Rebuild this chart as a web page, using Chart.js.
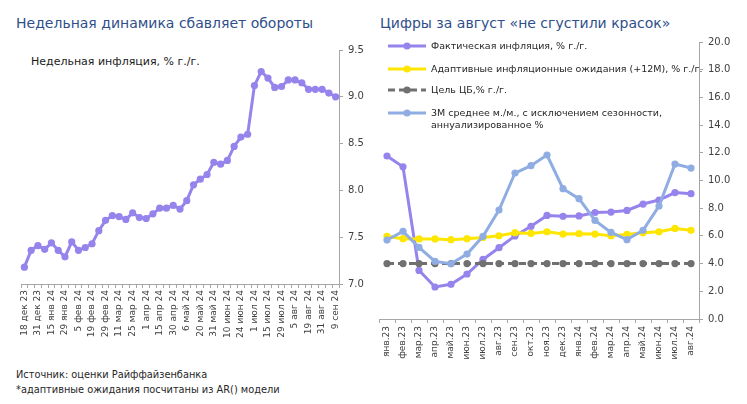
<!DOCTYPE html>
<html><head><meta charset="utf-8">
<script src="https://cdn.jsdelivr.net/npm/chart.js@4/dist/chart.umd.min.js"></script>
<style>
html,body{margin:0;padding:0;background:#fff;}
#wrap{position:relative;width:747px;height:404px;overflow:hidden;font-family:"DejaVu Sans",sans-serif;}
.t{position:absolute;white-space:nowrap;}
.title{color:#2f4f8a;font-size:14px;}
canvas{position:absolute;}
.lg{position:absolute;left:388px;font-size:9.5px;color:#262626;}
.lg svg{position:absolute;left:0;}
.lg span{position:absolute;left:43px;white-space:nowrap;line-height:12px;}
</style></head>
<body><div id="wrap">
<div class="t title" style="left:16px;top:15px;">Недельная динамика сбавляет обороты</div>
<div class="t" style="left:31px;top:55px;font-size:11px;color:#1a1a1a;">Недельная инфляция, % г./г.</div>
<div class="t title" style="left:380px;top:15px;">Цифры за август «не сгустили красок»</div>
<div class="t" style="left:16px;top:369px;font-size:9.8px;color:#262626;">Источник: оценки Райффайзенбанка</div>
<div class="t" style="left:16px;top:384px;font-size:9.8px;color:#262626;">*адаптивные ожидания посчитаны из AR() модели</div>
<canvas id="c1" width="375" height="354" style="left:0;top:0;"></canvas>
<canvas id="c2" width="377" height="374" style="left:370px;top:0;"></canvas>
<div id="legend"></div>
</div>
<script>
// ---- Left chart data ----
const weekLabels = ["18 дек 23","25 дек 23","31 дек 23","9 янв 24","15 янв 24","22 янв 24","29 янв 24","31 янв 24","5 фев 24","12 фев 24","19 фев 24","26 фев 24","29 фев 24","4 мар 24","11 мар 24","18 мар 24","25 мар 24","31 мар 24","1 апр 24","8 апр 24","15 апр 24","22 апр 24","30 апр 24","2 май 24","6 май 24","13 май 24","20 май 24","27 май 24","31 май 24","3 июн 24","10 июн 24","17 июн 24","24 июн 24","30 июн 24","1 июл 24","8 июл 24","15 июл 24","22 июл 24","29 июл 24","31 июл 24","5 авг 24","12 авг 24","19 авг 24","26 авг 24","31 авг 24","2 сен 24","9 сен 24"];
const weeklyInflation = [7.18,7.36,7.41,7.37,7.44,7.36,7.29,7.45,7.36,7.39,7.43,7.57,7.68,7.73,7.72,7.69,7.76,7.71,7.70,7.75,7.81,7.81,7.84,7.80,7.89,8.06,8.12,8.17,8.30,8.28,8.32,8.47,8.57,8.60,9.12,9.27,9.20,9.10,9.11,9.18,9.18,9.15,9.08,9.08,9.08,9.04,9.00];
const leftTicks = {min:7.0, max:9.5, step:0.5};

// ---- Right chart data ----
const months = ["янв.23","фев.23","мар.23","апр.23","май.23","июн.23","июл.23","авг.23","сен.23","окт.23","ноя.23","дек.23","янв.24","фев.24","мар.24","апр.24","май.24","июн.24","июл.24","авг.24"];
const actualInflation = [11.77,10.99,3.51,2.31,2.51,3.25,4.30,5.15,6.00,6.69,7.48,7.42,7.44,7.69,7.72,7.84,8.30,8.59,9.13,9.05];
const adaptiveExpectations = [5.97,5.80,5.78,5.78,5.73,5.80,5.89,6.01,6.23,6.18,6.30,6.13,6.16,6.13,6.01,6.11,6.23,6.30,6.54,6.40];
const cbTarget = [4,4,4,4,4,4,4,4,4,4,4,4,4,4,4,4,4,4,4,4];
const saar3m = [5.70,6.33,5.17,4.16,3.99,4.69,5.97,7.87,10.54,11.07,11.84,9.41,8.69,7.12,6.25,5.73,6.40,8.16,11.19,10.90];
const seriesNames = ["Фактическая инфляция, % г./г.","Адаптивные инфляционные ожидания (+12M), % г./г.","Цель ЦБ,% г./г.","3М среднее м./м., с исключением сезонности, аннуализированное %"];
const rightTicks = {min:0, max:20, step:2};

const PURPLE="#9683ec", YELLOW="#ffe600", GRAY="#707070", BLUE="#8fade2";
const AXIS="#a6a6a6", TXT="#404040";
Chart.defaults.font.family = '"DejaVu Sans", sans-serif';
Chart.defaults.animation = false;

new Chart(document.getElementById('c1'), {
  type:'line',
  data:{labels:weekLabels, datasets:[{data:weeklyInflation, borderColor:PURPLE, backgroundColor:PURPLE, borderWidth:3, pointRadius:3.6, pointBorderWidth:0, tension:0}]},
  options:{responsive:false, devicePixelRatio:1,
    layout:{padding:{left:21,top:50,right:0,bottom:0}},
    plugins:{legend:{display:false}, tooltip:{enabled:false}},
    scales:{
      x:{offset:true, grid:{offset:true, drawOnChartArea:false, drawTicks:true, tickLength:4, color:AXIS}, border:{color:AXIS},
        ticks:{autoSkip:false, maxRotation:90, minRotation:90, padding:2, color:TXT, font:{size:9}},
        afterFit:(s)=>{s.height=70;}},
      y:{position:'right', min:leftTicks.min, max:leftTicks.max,
        grid:{drawOnChartArea:false, tickLength:4, color:AXIS}, border:{color:AXIS},
        ticks:{stepSize:leftTicks.step, padding:5, color:TXT, font:{size:10}, callback:v=>Number(v).toFixed(1)},
        afterFit:(s)=>{s.width=36;}}
    }}
});
// show every other week label
Chart.getChart('c1').options.scales.x.ticks.callback = (v,i)=> i%2===0 ? weekLabels[i] : '';
Chart.getChart('c1').update();

const ds = (data,color,order,dash)=>({data, borderColor:color, backgroundColor:color, borderWidth:3, pointRadius:3.6, pointBorderWidth:0, tension:0, order, borderDash:dash||[]});
new Chart(document.getElementById('c2'), {
  type:'line',
  data:{labels:months, datasets:[
    ds(actualInflation,PURPLE,3),
    ds(adaptiveExpectations,YELLOW,2),
    ds(cbTarget,GRAY,1,[7,4]),
    ds(saar3m,BLUE,0)
  ]},
  options:{responsive:false, devicePixelRatio:1,
    layout:{padding:{left:9,top:42,right:0,bottom:0}},
    plugins:{legend:{display:false}, tooltip:{enabled:false}},
    scales:{
      x:{offset:true, grid:{offset:true, drawOnChartArea:false, tickLength:4, color:AXIS}, border:{color:AXIS},
        ticks:{autoSkip:false, maxRotation:90, minRotation:90, padding:3, color:TXT, font:{size:9}},
        afterFit:(s)=>{s.height=55;}},
      y:{position:'right', min:rightTicks.min, max:rightTicks.max,
        grid:{drawOnChartArea:false, tickLength:4, color:AXIS}, border:{color:AXIS},
        ticks:{stepSize:rightTicks.step, padding:5, color:TXT, font:{size:10}, callback:v=>Number(v).toFixed(1)},
        afterFit:(s)=>{s.width=48;}}
    }}
});

// HTML legend
const legendColors=[PURPLE,YELLOW,GRAY,BLUE];
const legendY=[40,63,84,107];
const lg=document.getElementById('legend');
seriesNames.forEach((n,i)=>{
  const d=document.createElement('div'); d.className='lg'; d.style.top=legendY[i]+'px';
  const dash = i===2 ? 'stroke-dasharray="7 4"' : '';
  let text = n;
  if(i===3){ text = '3М среднее м./м., с исключением сезонности,<br>аннуализированное %'; }
  d.innerHTML=`<svg width="38" height="12" style="top:0"><line x1="0" y1="6" x2="38" y2="6" stroke="${legendColors[i]}" stroke-width="3" ${dash}/><circle cx="19" cy="6" r="3.6" fill="${legendColors[i]}"/></svg><span style="top:0">${text}</span>`;
  lg.appendChild(d);
});
</script>
</body></html>
